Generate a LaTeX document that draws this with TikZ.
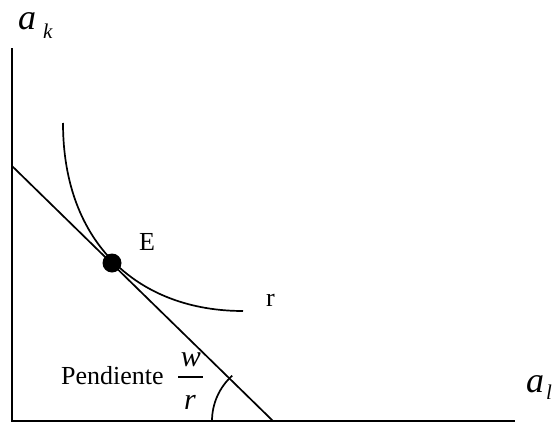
\documentclass[tikz,border=0pt]{standalone}
\usepackage{fontspec}
\setmainfont{Liberation Serif}
\begin{document}
\begin{tikzpicture}[x=1pt,y=-1pt,
  curve/.style={line width=1.7pt},
  axis/.style={line width=1.8pt},
  lbl/.style={inner sep=0pt,font=\fontsize{26}{30}\selectfont},
  fracit/.style={inner sep=0pt,font=\fontsize{30}{34}\selectfont\itshape},
  bigit/.style={inner sep=0pt,font=\fontsize{36}{40}\selectfont\itshape},
  subit/.style={inner sep=0pt,font=\fontsize{21}{24}\selectfont\itshape},
  dot/.style={circle,fill=black,inner sep=0pt,minimum size=19pt}]
\useasboundingbox (0,0) rectangle (554,423);
% axes
\coordinate (O) at (12,421);
\coordinate (Ytop) at (12,48);
\coordinate (Xend) at (515,421);
\draw[axis] (Ytop) -- (O) -- (Xend);
% iso-cost line
\coordinate (A) at (12,166);
\coordinate (B) at (273,421);
\draw[curve] (A) -- (B);
% isoquant
\coordinate (Q0) at (63,123);
\coordinate (Q1) at (243,311);
\draw[curve] (Q0) .. controls (63,245) and (140,311) .. (Q1);
% tangency point
\node[dot] (E) at (112,263) {};
\node[lbl,anchor=base west] (Elbl) at (139,250) {E};
\node[lbl,anchor=base west] (rlbl) at (266,306) {r};
% slope angle (y axis points down, so the arc runs through angles above 180)
\draw[curve] ([shift={(180:61)}]B) arc[start angle=180,end angle=228,radius=61];
\node[lbl,anchor=base west] (pend) at (61,384) {Pendiente};
% slope as a fraction w / r
\node[fracit,anchor=base] (fw) at (191,366) {w};
\node[fracit,anchor=base] (fr) at (190,409) {r};
\coordinate (barL) at (178,377);
\coordinate (barR) at (203,377);
\draw[line width=1.2pt] (barL) -- (barR);
% axis labels
\node[bigit,anchor=base west] (ak) at (18,29) {a};
\node[subit,anchor=base west] (kk) at (43,38) {k};
\node[bigit,anchor=base west] (al) at (526,392) {a};
\node[subit,anchor=base west] (ll) at (546,399) {l};
\end{tikzpicture}
\end{document}
